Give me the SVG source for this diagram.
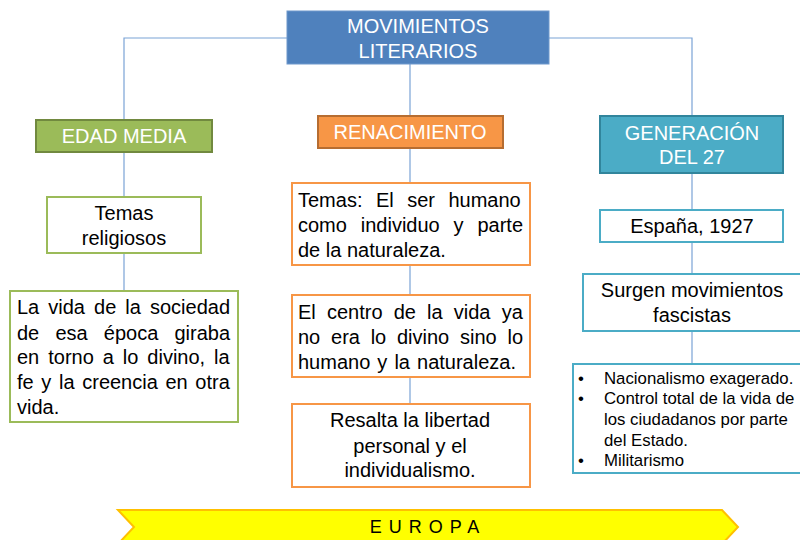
<svg xmlns="http://www.w3.org/2000/svg" width="800" height="540" viewBox="0 0 800 540">
<style>
text{font-family:"Liberation Sans",Arial,sans-serif;fill:#000}
.h{fill:#fff;font-size:20px;text-anchor:middle}
.b{font-size:20px}
.c{text-anchor:middle}
.s{font-size:16.8px}
.con{stroke:#7BA3D6;stroke-width:1.2;fill:none}
.gO{fill:#fff;stroke:#9BBB59;stroke-width:2}
.oO{fill:#fff;stroke:#F79646;stroke-width:2}
.tO{fill:#fff;stroke:#4BACC6;stroke-width:2}
</style>
<rect width="800" height="540" fill="#fff"/>
<g id="connectors">
<path class="con" d="M124 120V38H287M549 38H692V116M410 64V116"/>
<path class="con" d="M124 152V197M124 253V291"/>
<path class="con" d="M410 148V183M410 265V295M410 377V404"/>
<path class="con" d="M692 173V210M692 242V274M692 331V364"/>
</g>
<g id="root">
<rect x="287" y="11" width="262" height="53" fill="#4F81BD" stroke="#6E98CC" stroke-width="1"/>
<text class="h" x="418" y="33">MOVIMIENTOS</text>
<text class="h" x="418" y="58">LITERARIOS</text>
</g>
<g id="edad-media">
<rect x="36" y="120" width="176" height="32" fill="#9BBB59" stroke="#71893F" stroke-width="2"/>
<text class="h" x="124" y="143">EDAD MEDIA</text>
</g>
<g id="temas-religiosos">
<rect class="gO" x="47" y="197" width="154" height="56"/>
<text class="b c" x="124" y="220">Temas</text>
<text class="b c" x="124" y="245">religiosos</text>
</g>
<g id="vida-sociedad">
<rect class="gO" x="10" y="291" width="228" height="131"/>
<text class="b" x="17" y="314" word-spacing="3.5">La vida de la sociedad</text>
<text class="b" x="17" y="340" word-spacing="10.6">de esa época giraba</text>
<text class="b" x="17" y="364" word-spacing="3.4">en torno a lo divino, la</text>
<text class="b" x="17" y="389" word-spacing="2.1">fe y la creencia en otra</text>
<text class="b" x="17" y="414">vida.</text>
</g>
<g id="renacimiento">
<rect x="318" y="116" width="185" height="32" fill="#F79646" stroke="#B66D31" stroke-width="2"/>
<text class="h" x="410" y="139">RENACIMIENTO</text>
</g>
<g id="ser-humano">
<rect class="oO" x="292" y="183" width="238" height="82"/>
<text class="b" x="298" y="207" word-spacing="7.9">Temas: El ser humano</text>
<text class="b" x="298" y="232" word-spacing="8.3">como individuo y parte</text>
<text class="b" x="298" y="257">de la naturaleza.</text>
</g>
<g id="centro-vida">
<rect class="oO" x="292" y="295" width="238" height="82"/>
<text class="b" x="298" y="319" word-spacing="5.6">El centro de la vida ya</text>
<text class="b" x="298" y="344" word-spacing="5.2">no era lo divino sino lo</text>
<text class="b" x="298" y="369" word-spacing="1.5">humano y la naturaleza.</text>
</g>
<g id="libertad">
<rect class="oO" x="292" y="404" width="238" height="83"/>
<text class="b c" x="410" y="427">Resalta la libertad</text>
<text class="b c" x="410" y="453">personal y el</text>
<text class="b c" x="410" y="477">individualismo.</text>
</g>
<g id="generacion-27">
<rect x="600" y="116" width="183" height="57" fill="#4BACC6" stroke="#31859C" stroke-width="2"/>
<text class="h" x="692" y="140">GENERACIÓN</text>
<text class="h" x="692" y="164">DEL 27</text>
</g>
<g id="espana-1927">
<rect class="tO" x="600" y="210" width="183" height="32"/>
<text class="b c" x="692" y="233">España, 1927</text>
</g>
<g id="surgen">
<rect class="tO" x="583" y="274" width="230" height="57"/>
<text class="b c" x="692" y="297">Surgen movimientos</text>
<text class="b c" x="692" y="322">fascistas</text>
</g>
<g id="caracteristicas">
<rect class="tO" x="573" y="364" width="240" height="109"/>
<text class="s" x="578" y="384">•</text>
<text class="s" x="604" y="384">Nacionalismo exagerado.</text>
<text class="s" x="578" y="404">•</text>
<text class="s" x="604" y="404">Control total de la vida de</text>
<text class="s" x="604" y="425">los ciudadanos por parte</text>
<text class="s" x="604" y="446">del Estado.</text>
<text class="s" x="578" y="466">•</text>
<text class="s" x="604" y="466">Militarismo</text>
</g>
<g id="europa">
<polygon points="118,510 722,510 738,527 722,544 118,544 134,527" fill="#FFFF00" stroke="#FFC000" stroke-width="2"/>
<text x="428" y="533" text-anchor="middle" style="font-size:18px;letter-spacing:7px">EUROPA</text>
</g>
</svg>
